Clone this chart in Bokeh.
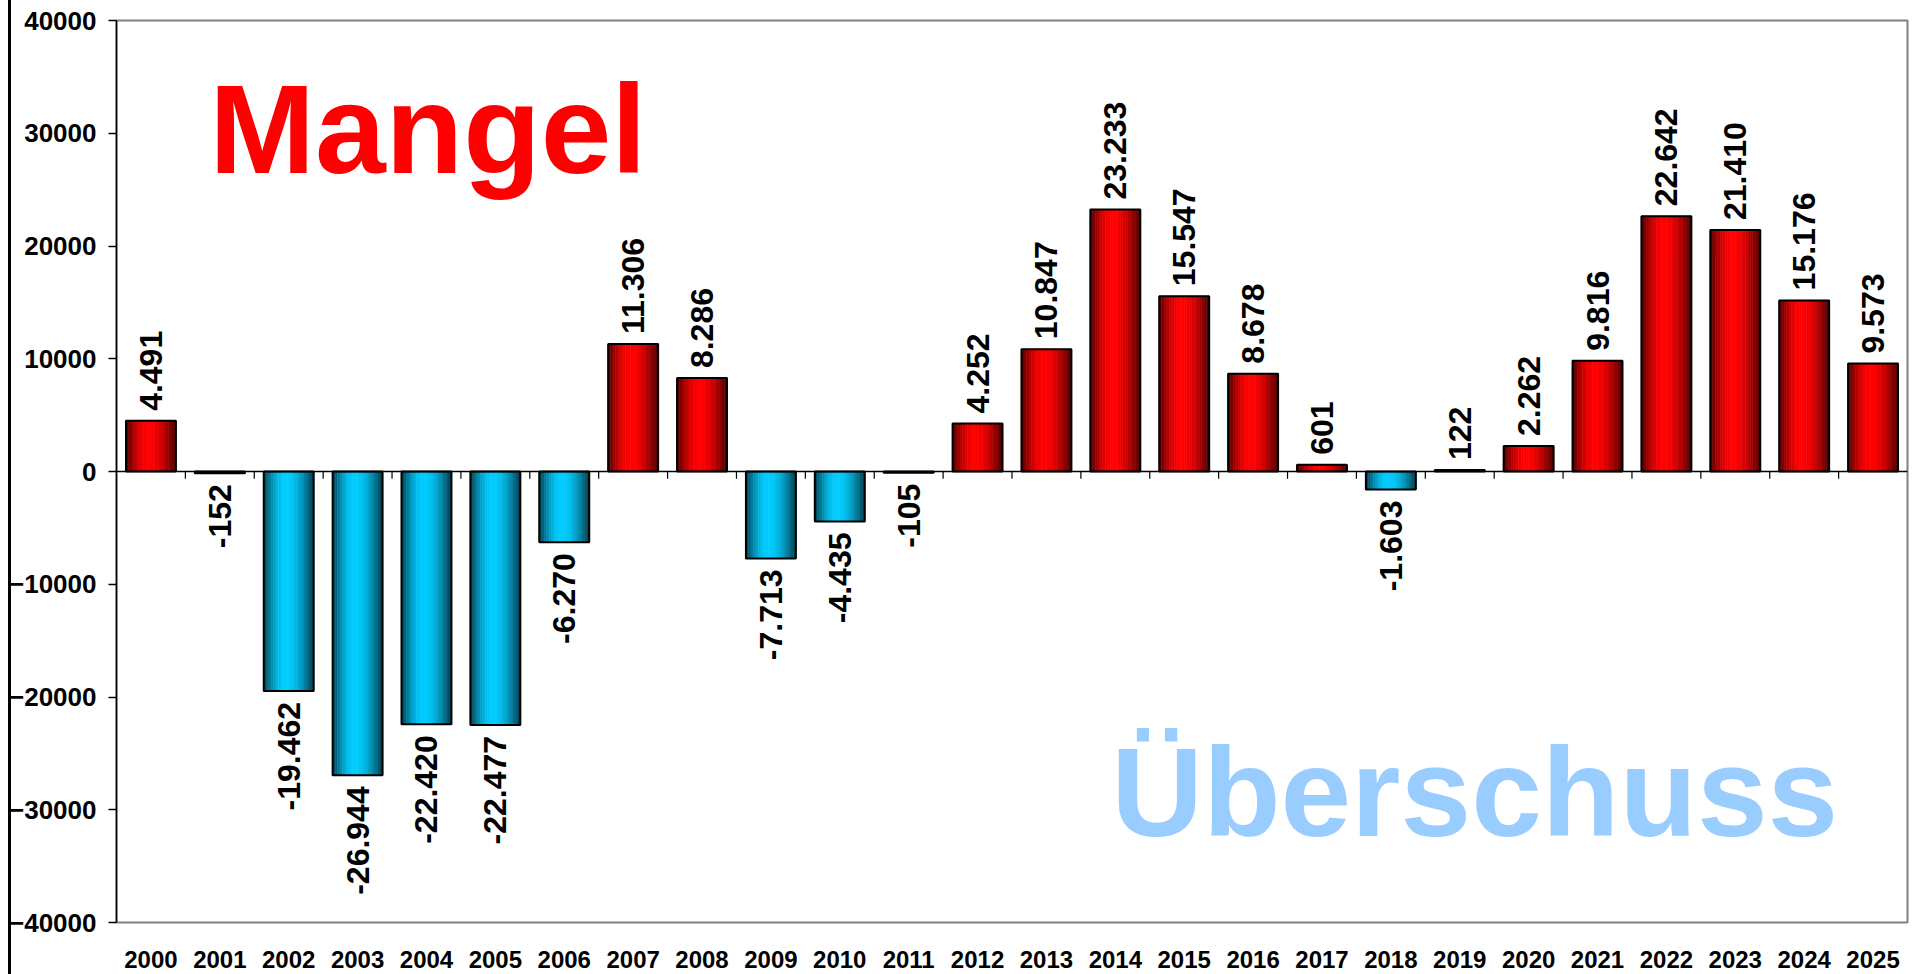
import math
from bokeh.plotting import figure
from bokeh.models import ColumnDataSource, FactorRange, Range1d, FixedTicker, Span, Label, Div
from bokeh.layouts import row
from bokeh.transform import dodge
from bokeh.core.properties import value
from bokeh.embed import file_html
from bokeh.resources import INLINE

# ---------------- data ----------------
years = ["2000", "2001", "2002", "2003", "2004", "2005", "2006", "2007", "2008",
         "2009", "2010", "2011", "2012", "2013", "2014", "2015", "2016", "2017",
         "2018", "2019", "2020", "2021", "2022", "2023", "2024", "2025"]
values = [4491, -152, -19462, -26944, -22420, -22477, -6270, 11306, 8286,
          -7713, -4435, -105, 4252, 10847, 23233, 15547, 8678, 601,
          -1603, 122, 2262, 9816, 22642, 21410, 15176, 9573]
y_ticks = [-40000, -30000, -20000, -10000, 0, 10000, 20000, 30000, 40000]
title_pos = "Mangel"
title_neg = "Überschuss"

FONT = "Liberation Sans"
BAR_W = 0.725
N_STRIPS = 20


def shade(t):
    # brightness profile across a bar (dark edges, bright near 45 %)
    tp = t / 0.9 if t < 0.45 else 0.5 + (t - 0.45) / 1.1
    return 0.3 + 0.7 * math.sin(math.pi * tp)


def hexc(r, g, b):
    return "#%02x%02x%02x" % (int(round(r)), int(round(g)), int(round(b)))


labels = [f"{v:,}".replace(",", ".") for v in values]

p = figure(width=1903, height=974,
           x_range=FactorRange(*years), y_range=Range1d(-40000, 40000),
           output_backend="svg", toolbar_location=None,
           min_border_left=110, min_border_right=2,
           min_border_top=20, min_border_bottom=52,
           margin=(0, 0, 0, -5))
p.xgrid.visible = False
p.ygrid.visible = False
p.outline_line_color = "#808080"
p.outline_line_width = 2
p.background_fill_color = "white"
p.border_fill_color = "white"
p.border_fill_alpha = 0.0

# y axis
p.yaxis.ticker = FixedTicker(ticks=y_ticks, minor_ticks=[])
p.yaxis.major_tick_out = 8
p.yaxis.major_tick_in = 0
p.yaxis.major_tick_line_color = "black"
p.yaxis.major_tick_line_width = 1.5
p.yaxis.minor_tick_line_color = None
p.yaxis.axis_line_color = "black"
p.yaxis.axis_line_width = 1.5
p.yaxis.major_label_text_font = FONT
p.yaxis.major_label_text_font_style = "bold"
p.yaxis.major_label_text_font_size = "26px"
p.yaxis.major_label_text_color = "black"
p.yaxis.major_label_standoff = 12

# x axis (labels at the bottom)
p.xaxis.axis_line_color = None
p.xaxis.major_tick_line_color = None
p.xaxis.minor_tick_line_color = None
p.xaxis.major_label_text_font = FONT
p.xaxis.major_label_text_font_style = "bold"
p.xaxis.major_label_text_font_size = "24px"
p.xaxis.major_label_text_color = "black"
p.xaxis.major_label_standoff = 22

# gradient bars built from strips
strip_w = BAR_W / N_STRIPS
for k in range(N_STRIPS):
    t = (k + 0.5) / N_STRIPS
    f = shade(t)
    red = hexc(255 * f, 0, 0)
    blue = hexc(0, 204 * f, 255 * f)
    cols = [red if v > 0 else blue for v in values]
    src = ColumnDataSource(dict(year=years, value=values, color=cols))
    off = -BAR_W / 2 + (k + 0.5) * strip_w
    p.vbar(x=dodge("year", off, range=p.x_range), top="value", bottom=0,
           width=strip_w * 1.02, fill_color="color", line_color="color",
           line_width=0.6, source=src)

bar_src = ColumnDataSource(dict(year=years, value=values))
p.vbar(x="year", top="value", bottom=0, width=BAR_W, fill_color=None,
       line_color="black", line_width=2, source=bar_src)

# zero line and category boundary ticks
p.add_layout(Span(location=0, dimension="width", line_color="black", line_width=1.5))
tick_src = ColumnDataSource(dict(year=years[:-1]))
p.segment(x0=dodge("year", 0.5, range=p.x_range), y0=0,
          x1=dodge("year", 0.5, range=p.x_range), y1=-650,
          line_color="black", line_width=1.2, source=tick_src)

# value labels
pos = [(y, v, l) for y, v, l in zip(years, values, labels) if v > 0]
neg = [(y, v, l) for y, v, l in zip(years, values, labels) if v <= 0]
pos_src = ColumnDataSource(dict(year=[a[0] for a in pos], value=[a[1] for a in pos], label=[a[2] for a in pos]))
neg_src = ColumnDataSource(dict(year=[a[0] for a in neg], value=[a[1] for a in neg], label=[a[2] for a in neg]))
common = dict(angle=math.pi / 2, text_font=value(FONT), text_font_style="bold",
              text_font_size="32px", text_color="black", text_baseline="middle")
p.text(x="year", y="value", text="label", text_align="left", y_offset=-10,
       source=pos_src, **common)
p.text(x="year", y="value", text="label", text_align="right", y_offset=11,
       source=neg_src, **common)

# big words
p.add_layout(Label(x=1.345, y=30400, text=title_pos, text_font=FONT,
                   text_font_style="bold", text_font_size="127px",
                   text_color="#FF0000", text_baseline="alphabetic"))
p.add_layout(Label(x=14.44, y=-28470, text=title_neg, text_font=FONT,
                   text_font_style="bold", text_font_size="127px",
                   text_color="#99CCFF", text_baseline="alphabetic"))

bar = Div(text="", width=3, height=974, margin=(0, 0, 0, 8),
          styles={"background-color": "#000000"})
layout = row(bar, p)

open("out.html", "w").write(file_html(layout, INLINE))
